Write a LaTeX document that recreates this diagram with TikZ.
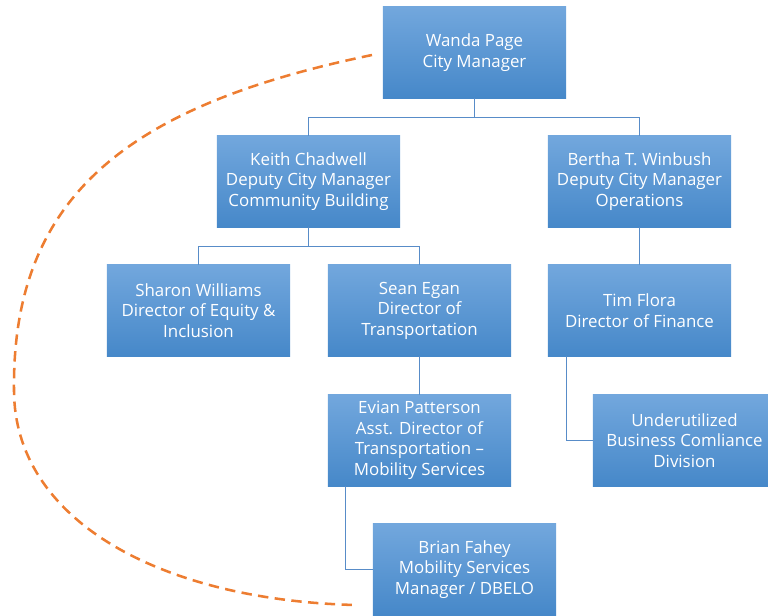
\documentclass[tikz,border=0pt]{standalone}
\usepackage[rgb]{xcolor}
\usepackage{fontspec}
\setmainfont{Open Sans}
\usepackage{tikz}

\definecolor{boxtop}{RGB}{114,167,221}
\definecolor{boxbottom}{RGB}{70,136,201}
\definecolor{linkblue}{RGB}{88,140,200}
\definecolor{dashorange}{RGB}{237,125,49}

\begin{document}
\begin{tikzpicture}[x=0.025cm, y=-0.025cm,
  box/.style = {draw = none, top color = boxtop, bottom color = boxbottom,
    minimum width = 4.575cm, minimum height = 2.275cm, inner sep = 0pt,
    align = center, text = white, font = \fontsize{12}{14.6}\selectfont},
  link/.style = {draw = linkblue, line width = 0.9pt}]

% page of the chart, in pixels
\useasboundingbox (0,0) rectangle (768,616);

% boxes of the chart
\path
(474.5,52.5) node [box] (wanda) {Wanda Page\\City Manager}
(308.5,181.5) node [box] (keith) {Keith Chadwell\\Deputy City Manager\\Community Building}
(639.5,181.5) node [box] (bertha) {Bertha T. Winbush\\Deputy City Manager\\Operations}
(198.5,310.5) node [box] (sharon) {Sharon Williams\\Director of Equity \&\\Inclusion}
(419.5,310.5) node [box] (sean) {Sean Egan\\Director of\\Transportation}
(639.5,310.5) node [box] (tim) {Tim Flora\\Director of Finance}
(419.5,440.5) node [box] (evian) {Evian Patterson\\Asst. Director of\\Transportation --\\Mobility Services}
(684.5,440.5) node [box] (ubc) {Underutilized\\Business Comliance\\Division}
(464.5,569.5) node [box] (brian) {Brian Fahey\\Mobility Services\\Manager / DBELO};

% lines between boxes
\draw [link] (wanda.south) -- ++(0,19) -| (keith.north);
\draw [link] (wanda.south) -- ++(0,19) -| (bertha.north);
\draw [link] (keith.south) -- ++(0,19) -| (sharon.north);
\draw [link] (keith.south) -- ++(0,19) -| (sean.north);
\draw [link] (bertha.south) -- (tim.north);
\draw [link] (sean.south) -- (evian.north);
\draw [link] (evian.south west) ++(18,0) |- (brian.west);
\draw [link] (tim.south west) ++(19,0) |- (ubc.west);

% orange dashed arc round the left side
\path
(372,55) coordinate (arcstart)
(14,390) coordinate (arcleft)
(355,605) coordinate (arcend);
\draw [dashorange, line width = 1.8pt, dash pattern = on 0.26cm off 0.16cm]
 (arcstart) .. controls (130,105) and (12,195) .. (arcleft)
 .. controls (14,520) and (160,600) .. (arcend);

\end{tikzpicture}
\end{document}
